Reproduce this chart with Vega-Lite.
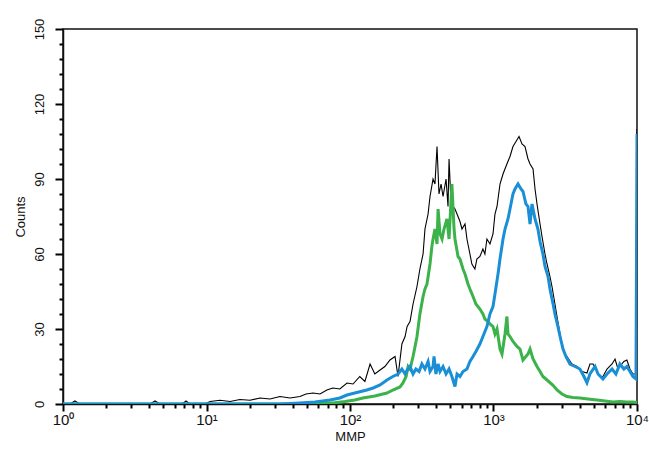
{
  "$schema": "https://vega.github.io/schema/vega-lite/v6.json",
  "width": 574,
  "height": 375,
  "autosize": "none",
  "padding": {"left": 63, "top": 29, "right": 12, "bottom": 50},
  "background": "white",
  "config": {
    "font": "Liberation Sans",
    "view": {"stroke": "#111", "strokeWidth": 1.5},
    "axis": {"domainColor": "#111", "domainWidth": 1.5, "tickColor": "#000", "labelColor": "#111", "titleColor": "#111", "grid": false}
  },
  "data": {
    "values": [
      {"series": "total", "MMP": 1, "Counts": 0}, {"series": "total", "MMP": 1.12, "Counts": 0}, {"series": "total", "MMP": 1.21, "Counts": 1.2}, {"series": "total", "MMP": 1.31, "Counts": 0},
      {"series": "total", "MMP": 4.04, "Counts": 0}, {"series": "total", "MMP": 4.38, "Counts": 1.2}, {"series": "total", "MMP": 4.74, "Counts": 0},
      {"series": "total", "MMP": 6.75, "Counts": 0}, {"series": "total", "MMP": 7.2, "Counts": 1.2}, {"series": "total", "MMP": 7.67, "Counts": 0},
      {"series": "total", "MMP": 9.77, "Counts": 0}, {"series": "total", "MMP": 10.6, "Counts": 1}, {"series": "total", "MMP": 12.4, "Counts": 1.5}, {"series": "total", "MMP": 14.6, "Counts": 1},
      {"series": "total", "MMP": 17.1, "Counts": 1.8}, {"series": "total", "MMP": 20.1, "Counts": 1.5}, {"series": "total", "MMP": 23.6, "Counts": 2.4}, {"series": "total", "MMP": 27.7, "Counts": 2},
      {"series": "total", "MMP": 32.5, "Counts": 3}, {"series": "total", "MMP": 38.2, "Counts": 2.4}, {"series": "total", "MMP": 44.8, "Counts": 3}, {"series": "total", "MMP": 49.4, "Counts": 4},
      {"series": "total", "MMP": 55.2, "Counts": 4.4}, {"series": "total", "MMP": 61.8, "Counts": 4}, {"series": "total", "MMP": 69, "Counts": 5.6}, {"series": "total", "MMP": 76, "Counts": 6.4},
      {"series": "total", "MMP": 85, "Counts": 6}, {"series": "total", "MMP": 95.3, "Counts": 8.4}, {"series": "total", "MMP": 105, "Counts": 8}, {"series": "total", "MMP": 117, "Counts": 11},
      {"series": "total", "MMP": 127, "Counts": 9}, {"series": "total", "MMP": 138, "Counts": 16}, {"series": "total", "MMP": 149, "Counts": 12}, {"series": "total", "MMP": 162, "Counts": 13.6},
      {"series": "total", "MMP": 175, "Counts": 15}, {"series": "total", "MMP": 190, "Counts": 17.6}, {"series": "total", "MMP": 206, "Counts": 19}, {"series": "total", "MMP": 216, "Counts": 11},
      {"series": "total", "MMP": 230, "Counts": 24}, {"series": "total", "MMP": 242, "Counts": 27}, {"series": "total", "MMP": 250, "Counts": 31}, {"series": "total", "MMP": 262, "Counts": 33},
      {"series": "total", "MMP": 275, "Counts": 40}, {"series": "total", "MMP": 293, "Counts": 47}, {"series": "total", "MMP": 307, "Counts": 54}, {"series": "total", "MMP": 323, "Counts": 60},
      {"series": "total", "MMP": 333, "Counts": 70}, {"series": "total", "MMP": 350, "Counts": 76}, {"series": "total", "MMP": 361, "Counts": 83}, {"series": "total", "MMP": 379, "Counts": 90},
      {"series": "total", "MMP": 391, "Counts": 88}, {"series": "total", "MMP": 404, "Counts": 103}, {"series": "total", "MMP": 417, "Counts": 84}, {"series": "total", "MMP": 431, "Counts": 88},
      {"series": "total", "MMP": 445, "Counts": 83}, {"series": "total", "MMP": 467, "Counts": 90}, {"series": "total", "MMP": 482, "Counts": 79}, {"series": "total", "MMP": 490, "Counts": 98},
      {"series": "total", "MMP": 506, "Counts": 80}, {"series": "total", "MMP": 539, "Counts": 78}, {"series": "total", "MMP": 566, "Counts": 75}, {"series": "total", "MMP": 584, "Counts": 73},
      {"series": "total", "MMP": 603, "Counts": 70}, {"series": "total", "MMP": 633, "Counts": 72}, {"series": "total", "MMP": 653, "Counts": 66}, {"series": "total", "MMP": 685, "Counts": 60},
      {"series": "total", "MMP": 707, "Counts": 56}, {"series": "total", "MMP": 742, "Counts": 54}, {"series": "total", "MMP": 766, "Counts": 58}, {"series": "total", "MMP": 804, "Counts": 59},
      {"series": "total", "MMP": 844, "Counts": 62}, {"series": "total", "MMP": 871, "Counts": 60}, {"series": "total", "MMP": 900, "Counts": 66}, {"series": "total", "MMP": 945, "Counts": 64},
      {"series": "total", "MMP": 992, "Counts": 68}, {"series": "total", "MMP": 1024, "Counts": 76}, {"series": "total", "MMP": 1058, "Counts": 79}, {"series": "total", "MMP": 1110, "Counts": 88},
      {"series": "total", "MMP": 1165, "Counts": 92}, {"series": "total", "MMP": 1240, "Counts": 96}, {"series": "total", "MMP": 1303, "Counts": 99}, {"series": "total", "MMP": 1367, "Counts": 103},
      {"series": "total", "MMP": 1435, "Counts": 105}, {"series": "total", "MMP": 1506, "Counts": 107}, {"series": "total", "MMP": 1580, "Counts": 104}, {"series": "total", "MMP": 1658, "Counts": 103},
      {"series": "total", "MMP": 1740, "Counts": 98}, {"series": "total", "MMP": 1797, "Counts": 96}, {"series": "total", "MMP": 1886, "Counts": 94}, {"series": "total", "MMP": 1947, "Counts": 86},
      {"series": "total", "MMP": 2010, "Counts": 80}, {"series": "total", "MMP": 2110, "Counts": 72}, {"series": "total", "MMP": 2178, "Counts": 67}, {"series": "total", "MMP": 2285, "Counts": 60},
      {"series": "total", "MMP": 2360, "Counts": 56}, {"series": "total", "MMP": 2475, "Counts": 51}, {"series": "total", "MMP": 2556, "Counts": 47}, {"series": "total", "MMP": 2680, "Counts": 40},
      {"series": "total", "MMP": 2770, "Counts": 35}, {"series": "total", "MMP": 2910, "Counts": 28}, {"series": "total", "MMP": 3000, "Counts": 24}, {"series": "total", "MMP": 3150, "Counts": 20},
      {"series": "total", "MMP": 3250, "Counts": 19}, {"series": "total", "MMP": 3520, "Counts": 16}, {"series": "total", "MMP": 3820, "Counts": 15}, {"series": "total", "MMP": 4140, "Counts": 13},
      {"series": "total", "MMP": 4480, "Counts": 12.4}, {"series": "total", "MMP": 4700, "Counts": 16}, {"series": "total", "MMP": 4940, "Counts": 16}, {"series": "total", "MMP": 5270, "Counts": 13},
      {"series": "total", "MMP": 5520, "Counts": 11}, {"series": "total", "MMP": 5790, "Counts": 11}, {"series": "total", "MMP": 6180, "Counts": 14}, {"series": "total", "MMP": 6700, "Counts": 16},
      {"series": "total", "MMP": 7030, "Counts": 18}, {"series": "total", "MMP": 7370, "Counts": 14}, {"series": "total", "MMP": 7600, "Counts": 15}, {"series": "total", "MMP": 8100, "Counts": 17},
      {"series": "total", "MMP": 8500, "Counts": 17.6}, {"series": "total", "MMP": 8930, "Counts": 14}, {"series": "total", "MMP": 9370, "Counts": 12}, {"series": "total", "MMP": 9840, "Counts": 12},
      {"series": "total", "MMP": 10000, "Counts": 110},

      {"series": "green", "MMP": 1, "Counts": 0}, {"series": "green", "MMP": 38.2, "Counts": 0}, {"series": "green", "MMP": 52.7, "Counts": 0.4}, {"series": "green", "MMP": 76, "Counts": 0.4},
      {"series": "green", "MMP": 92.2, "Counts": 1}, {"series": "green", "MMP": 108, "Counts": 1.6}, {"series": "green", "MMP": 123, "Counts": 2.4}, {"series": "green", "MMP": 149, "Counts": 3.2},
      {"series": "green", "MMP": 181, "Counts": 4.4}, {"series": "green", "MMP": 199, "Counts": 5.6}, {"series": "green", "MMP": 223, "Counts": 6.8}, {"series": "green", "MMP": 234, "Counts": 8.4},
      {"series": "green", "MMP": 246, "Counts": 11}, {"series": "green", "MMP": 254, "Counts": 15}, {"series": "green", "MMP": 262, "Counts": 14}, {"series": "green", "MMP": 275, "Counts": 19},
      {"series": "green", "MMP": 284, "Counts": 23}, {"series": "green", "MMP": 293, "Counts": 27}, {"series": "green", "MMP": 307, "Counts": 36}, {"series": "green", "MMP": 323, "Counts": 43},
      {"series": "green", "MMP": 333, "Counts": 46}, {"series": "green", "MMP": 344, "Counts": 48}, {"series": "green", "MMP": 361, "Counts": 56}, {"series": "green", "MMP": 372, "Counts": 63},
      {"series": "green", "MMP": 379, "Counts": 66}, {"series": "green", "MMP": 391, "Counts": 70}, {"series": "green", "MMP": 404, "Counts": 64}, {"series": "green", "MMP": 411, "Counts": 78},
      {"series": "green", "MMP": 424, "Counts": 68}, {"series": "green", "MMP": 438, "Counts": 66}, {"series": "green", "MMP": 452, "Counts": 70}, {"series": "green", "MMP": 474, "Counts": 74},
      {"series": "green", "MMP": 490, "Counts": 66}, {"series": "green", "MMP": 513, "Counts": 88}, {"series": "green", "MMP": 531, "Counts": 70}, {"series": "green", "MMP": 539, "Counts": 66},
      {"series": "green", "MMP": 566, "Counts": 59}, {"series": "green", "MMP": 584, "Counts": 58}, {"series": "green", "MMP": 613, "Counts": 54}, {"series": "green", "MMP": 633, "Counts": 52},
      {"series": "green", "MMP": 664, "Counts": 48}, {"series": "green", "MMP": 685, "Counts": 46}, {"series": "green", "MMP": 720, "Counts": 43}, {"series": "green", "MMP": 754, "Counts": 40},
      {"series": "green", "MMP": 804, "Counts": 38}, {"series": "green", "MMP": 844, "Counts": 36}, {"series": "green", "MMP": 871, "Counts": 34}, {"series": "green", "MMP": 915, "Counts": 33},
      {"series": "green", "MMP": 945, "Counts": 32}, {"series": "green", "MMP": 992, "Counts": 31}, {"series": "green", "MMP": 1024, "Counts": 28}, {"series": "green", "MMP": 1058, "Counts": 30},
      {"series": "green", "MMP": 1110, "Counts": 22}, {"series": "green", "MMP": 1146, "Counts": 20}, {"series": "green", "MMP": 1203, "Counts": 28}, {"series": "green", "MMP": 1240, "Counts": 35},
      {"series": "green", "MMP": 1262, "Counts": 28}, {"series": "green", "MMP": 1303, "Counts": 27}, {"series": "green", "MMP": 1367, "Counts": 25}, {"series": "green", "MMP": 1458, "Counts": 23},
      {"series": "green", "MMP": 1530, "Counts": 22}, {"series": "green", "MMP": 1605, "Counts": 17.6}, {"series": "green", "MMP": 1740, "Counts": 20}, {"series": "green", "MMP": 1797, "Counts": 22},
      {"series": "green", "MMP": 1886, "Counts": 18}, {"series": "green", "MMP": 2010, "Counts": 15}, {"series": "green", "MMP": 2110, "Counts": 13}, {"series": "green", "MMP": 2210, "Counts": 11},
      {"series": "green", "MMP": 2360, "Counts": 9.6}, {"series": "green", "MMP": 2600, "Counts": 7.5}, {"series": "green", "MMP": 2770, "Counts": 5.6}, {"series": "green", "MMP": 3000, "Counts": 4},
      {"series": "green", "MMP": 3250, "Counts": 3}, {"series": "green", "MMP": 3580, "Counts": 2.6}, {"series": "green", "MMP": 4000, "Counts": 2.4}, {"series": "green", "MMP": 4550, "Counts": 2},
      {"series": "green", "MMP": 5270, "Counts": 1.6}, {"series": "green", "MMP": 5980, "Counts": 1.2}, {"series": "green", "MMP": 6790, "Counts": 0.8}, {"series": "green", "MMP": 7600, "Counts": 1},
      {"series": "green", "MMP": 8500, "Counts": 0.8}, {"series": "green", "MMP": 9370, "Counts": 0.8}, {"series": "green", "MMP": 10000, "Counts": 0.6},

      {"series": "blue", "MMP": 1, "Counts": 0}, {"series": "blue", "MMP": 32.5, "Counts": 0}, {"series": "blue", "MMP": 44.8, "Counts": 0.4}, {"series": "blue", "MMP": 57, "Counts": 0.8},
      {"series": "blue", "MMP": 72.6, "Counts": 1.6}, {"series": "blue", "MMP": 85, "Counts": 2.4}, {"series": "blue", "MMP": 95.3, "Counts": 3.6}, {"series": "blue", "MMP": 108, "Counts": 4.4},
      {"series": "blue", "MMP": 131, "Counts": 5.6}, {"series": "blue", "MMP": 145, "Counts": 6.4}, {"series": "blue", "MMP": 162, "Counts": 7.6}, {"series": "blue", "MMP": 181, "Counts": 9.6},
      {"series": "blue", "MMP": 199, "Counts": 11}, {"series": "blue", "MMP": 216, "Counts": 12}, {"series": "blue", "MMP": 230, "Counts": 14}, {"series": "blue", "MMP": 242, "Counts": 12},
      {"series": "blue", "MMP": 250, "Counts": 13.6}, {"series": "blue", "MMP": 262, "Counts": 15}, {"series": "blue", "MMP": 275, "Counts": 12}, {"series": "blue", "MMP": 288, "Counts": 14},
      {"series": "blue", "MMP": 303, "Counts": 13}, {"series": "blue", "MMP": 317, "Counts": 16}, {"series": "blue", "MMP": 333, "Counts": 14}, {"series": "blue", "MMP": 350, "Counts": 17},
      {"series": "blue", "MMP": 361, "Counts": 13}, {"series": "blue", "MMP": 379, "Counts": 15}, {"series": "blue", "MMP": 385, "Counts": 19}, {"series": "blue", "MMP": 397, "Counts": 12},
      {"series": "blue", "MMP": 411, "Counts": 16}, {"series": "blue", "MMP": 424, "Counts": 13}, {"series": "blue", "MMP": 445, "Counts": 15}, {"series": "blue", "MMP": 467, "Counts": 12},
      {"series": "blue", "MMP": 490, "Counts": 14}, {"series": "blue", "MMP": 513, "Counts": 11}, {"series": "blue", "MMP": 539, "Counts": 7}, {"series": "blue", "MMP": 557, "Counts": 12},
      {"series": "blue", "MMP": 584, "Counts": 11}, {"series": "blue", "MMP": 613, "Counts": 13}, {"series": "blue", "MMP": 653, "Counts": 14}, {"series": "blue", "MMP": 685, "Counts": 17},
      {"series": "blue", "MMP": 720, "Counts": 19}, {"series": "blue", "MMP": 754, "Counts": 21}, {"series": "blue", "MMP": 804, "Counts": 24}, {"series": "blue", "MMP": 844, "Counts": 27},
      {"series": "blue", "MMP": 900, "Counts": 31}, {"series": "blue", "MMP": 945, "Counts": 36}, {"series": "blue", "MMP": 992, "Counts": 39}, {"series": "blue", "MMP": 1024, "Counts": 44},
      {"series": "blue", "MMP": 1075, "Counts": 52}, {"series": "blue", "MMP": 1110, "Counts": 58}, {"series": "blue", "MMP": 1165, "Counts": 66}, {"series": "blue", "MMP": 1203, "Counts": 70},
      {"series": "blue", "MMP": 1262, "Counts": 74}, {"series": "blue", "MMP": 1303, "Counts": 78}, {"series": "blue", "MMP": 1367, "Counts": 84}, {"series": "blue", "MMP": 1412, "Counts": 86},
      {"series": "blue", "MMP": 1482, "Counts": 88}, {"series": "blue", "MMP": 1554, "Counts": 86}, {"series": "blue", "MMP": 1605, "Counts": 85}, {"series": "blue", "MMP": 1684, "Counts": 80},
      {"series": "blue", "MMP": 1740, "Counts": 79}, {"series": "blue", "MMP": 1797, "Counts": 72}, {"series": "blue", "MMP": 1855, "Counts": 80}, {"series": "blue", "MMP": 1886, "Counts": 78},
      {"series": "blue", "MMP": 1947, "Counts": 74}, {"series": "blue", "MMP": 2040, "Counts": 70}, {"series": "blue", "MMP": 2110, "Counts": 65}, {"series": "blue", "MMP": 2210, "Counts": 60},
      {"series": "blue", "MMP": 2285, "Counts": 55}, {"series": "blue", "MMP": 2400, "Counts": 51}, {"series": "blue", "MMP": 2475, "Counts": 46}, {"series": "blue", "MMP": 2600, "Counts": 40},
      {"series": "blue", "MMP": 2680, "Counts": 36}, {"series": "blue", "MMP": 2810, "Counts": 31}, {"series": "blue", "MMP": 2910, "Counts": 27}, {"series": "blue", "MMP": 3050, "Counts": 22},
      {"series": "blue", "MMP": 3200, "Counts": 19}, {"series": "blue", "MMP": 3410, "Counts": 16}, {"series": "blue", "MMP": 3700, "Counts": 15}, {"series": "blue", "MMP": 4000, "Counts": 14},
      {"series": "blue", "MMP": 4270, "Counts": 11}, {"series": "blue", "MMP": 4480, "Counts": 8.5}, {"series": "blue", "MMP": 4700, "Counts": 12}, {"series": "blue", "MMP": 5100, "Counts": 15},
      {"series": "blue", "MMP": 5350, "Counts": 12}, {"series": "blue", "MMP": 5790, "Counts": 10}, {"series": "blue", "MMP": 6180, "Counts": 12}, {"series": "blue", "MMP": 6700, "Counts": 14},
      {"series": "blue", "MMP": 7130, "Counts": 12}, {"series": "blue", "MMP": 7600, "Counts": 16}, {"series": "blue", "MMP": 8100, "Counts": 14}, {"series": "blue", "MMP": 8500, "Counts": 15},
      {"series": "blue", "MMP": 8930, "Counts": 13}, {"series": "blue", "MMP": 9370, "Counts": 11}, {"series": "blue", "MMP": 9840, "Counts": 10}, {"series": "blue", "MMP": 10000, "Counts": 108}
    ]
  },
  "encoding": {
    "x": {
      "field": "MMP", "type": "quantitative",
      "scale": {"type": "log", "domain": [1, 10000], "nice": false},
      "axis": {
        "title": "MMP", "titleFontSize": 13, "titleFontWeight": "normal", "titlePadding": 3,
        "values": [1,2,3,4,5,6,7,8,9,10,20,30,40,50,60,70,80,90,100,200,300,400,500,600,700,800,900,1000,2000,3000,4000,5000,6000,7000,8000,9000,10000],
        "labelExpr": "datum.value == 1 ? '10⁰' : datum.value == 10 ? '10¹' : datum.value == 100 ? '10²' : datum.value == 1000 ? '10³' : datum.value == 10000 ? '10⁴' : ''",
        "labelFontSize": 15, "labelPadding": 1, "labelFlush": false, "labelOverlap": false,
        "tickWidth": 2,
        "tickSize": {"condition": {"test": "datum.value == 1 || datum.value == 10 || datum.value == 100 || datum.value == 1000 || datum.value == 10000", "value": 7}, "value": 4}
      }
    },
    "y": {
      "field": "Counts", "type": "quantitative",
      "scale": {"domain": [0, 150], "nice": false},
      "axis": {
        "title": "Counts", "titleFontSize": 13, "titleFontWeight": "normal", "titlePadding": 6,
        "values": [0,6,12,18,24,30,36,42,48,54,60,66,72,78,84,90,96,102,108,114,120,126,132,138,144,150],
        "labelExpr": "datum.value % 30 == 0 ? datum.label : ''",
        "labelAngle": -90, "labelAlign": "center", "labelBaseline": "bottom",
        "labelFontSize": 13, "labelPadding": 9, "labelFlush": false, "labelOverlap": false,
        "tickWidth": 2,
        "tickSize": {"condition": {"test": "datum.value % 30 == 0", "value": 8}, "value": 4}
      }
    }
  },
  "layer": [
    {"transform": [{"filter": "datum.series == 'total'"}], "mark": {"type": "line", "color": "#000000", "strokeWidth": 1.1, "clip": true}},
    {"transform": [{"filter": "datum.series == 'green'"}], "mark": {"type": "line", "color": "#3bb34a", "strokeWidth": 3, "clip": true}},
    {"transform": [{"filter": "datum.series == 'blue'"}], "mark": {"type": "line", "color": "#1a8fd6", "strokeWidth": 3, "clip": true}}
  ]
}
